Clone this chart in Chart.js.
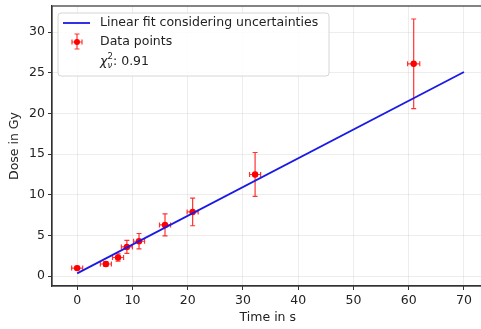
<!DOCTYPE html>
<html>
<head>
<meta charset="utf-8">
<script src="https://cdn.jsdelivr.net/npm/chart.js@4"></script>
<style>
html, body { margin: 0; padding: 0; overflow: hidden; background: #fff; }
canvas { display: block; }
</style>
</head>
<body>
<canvas id="doseChart" width="495" height="329"></canvas>
<script>
// measured points (time in s, dose in Gy) with their uncertainties
const times = [0, 5.2, 7.4, 9.0, 11.2, 15.9, 20.9, 32.2, 60.9];
const doses = [1.0, 1.5, 2.3, 3.6, 4.3, 6.3, 7.9, 12.5, 26.1];
const timeErr = [1, 1, 1, 1, 1, 1, 1, 1, 1.1];
const doseErr = [0.2, 0.3, 0.45, 0.8, 0.95, 1.35, 1.7, 2.7, 5.5];

// linear fit, end points
const fitTimes = [0, 70];
const fitDoses = [0.35, 25.1];

const xTicks = [0, 10, 20, 30, 40, 50, 60, 70];
const yTicks = [0, 5, 10, 15, 20, 25, 30];
const chiValue = "0.91";

const FONT = "'DejaVu Sans', sans-serif";
const errColor = "rgba(255,0,0,0.8)";
const fitColor = "#1a1ae6";

function drawErr(ctx, x, y, xs, ys, cap) {
  ctx.beginPath();
  ctx.moveTo(xs[0], y); ctx.lineTo(xs[1], y);
  ctx.moveTo(x, ys[0]); ctx.lineTo(x, ys[1]);
  ctx.moveTo(xs[0], y - cap); ctx.lineTo(xs[0], y + cap);
  ctx.moveTo(xs[1], y - cap); ctx.lineTo(xs[1], y + cap);
  ctx.moveTo(x - cap, ys[0]); ctx.lineTo(x + cap, ys[0]);
  ctx.moveTo(x - cap, ys[1]); ctx.lineTo(x + cap, ys[1]);
  ctx.stroke();
}

const errorBars = {
  id: "errorBars",
  beforeDatasetsDraw(chart) {
    const ctx = chart.ctx;
    const xs = chart.scales.x, ys = chart.scales.y;
    ctx.save();
    ctx.strokeStyle = errColor;
    ctx.lineWidth = 1.2;
    times.forEach((t, i) => {
      const px = xs.getPixelForValue(t), py = ys.getPixelForValue(doses[i]);
      drawErr(ctx, px, py,
        [xs.getPixelForValue(t - timeErr[i]), xs.getPixelForValue(t + timeErr[i])],
        [ys.getPixelForValue(doses[i] - doseErr[i]), ys.getPixelForValue(doses[i] + doseErr[i])],
        2.5);
    });
    ctx.restore();
  }
};

const frameAndLegend = {
  id: "frameAndLegend",
  afterDraw(chart) {
    const ctx = chart.ctx;
    const a = chart.chartArea;
    ctx.save();
    ctx.strokeStyle = "#333";
    ctx.lineWidth = 1.2;
    ctx.strokeRect(a.left, a.top, a.right - a.left, a.bottom - a.top);

    // legend box
    const bx = 58, by = 13, bw = 271, bh = 63, r = 3;
    ctx.beginPath();
    ctx.roundRect(bx, by, bw, bh, r);
    ctx.fillStyle = "rgba(255,255,255,0.85)";
    ctx.fill();
    ctx.strokeStyle = "#d6d6d6";
    ctx.lineWidth = 1;
    ctx.stroke();

    ctx.font = "12.5px " + FONT;
    ctx.fillStyle = "#222";
    ctx.textBaseline = "middle";
    ctx.textAlign = "left";

    // fit line handle
    ctx.strokeStyle = fitColor;
    ctx.lineWidth = 1.8;
    ctx.beginPath(); ctx.moveTo(63, 23); ctx.lineTo(90, 23); ctx.stroke();
    ctx.fillText("Linear fit considering uncertainties", 100, 23);

    // data point handle
    ctx.strokeStyle = errColor;
    ctx.lineWidth = 1.2;
    drawErr(ctx, 77, 42, [72, 82], [34, 49], 2.5);
    ctx.fillStyle = "red";
    ctx.beginPath(); ctx.arc(77, 42, 3, 0, Math.PI * 2); ctx.fill();
    ctx.fillStyle = "#222";
    ctx.fillText("Data points", 100, 42);

    // chi squared line
    ctx.font = "italic 12.5px " + FONT;
    ctx.fillText("\u03c7", 100, 62);
    ctx.font = "8.5px " + FONT;
    ctx.fillText("2", 107.5, 57);
    ctx.font = "italic 8.5px " + FONT;
    ctx.fillText("\u03bd", 107.5, 66);
    ctx.font = "12.5px " + FONT;
    ctx.fillText(": " + chiValue, 113, 62);
    ctx.restore();
  }
};

new Chart(document.getElementById("doseChart"), {
  type: "scatter",
  data: {
    datasets: [
      {
        label: "Linear fit considering uncertainties",
        type: "line",
        data: fitTimes.map((t, i) => ({ x: t, y: fitDoses[i] })),
        borderColor: fitColor,
        borderWidth: 1.8,
        pointRadius: 0,
        fill: false
      },
      {
        label: "Data points",
        data: times.map((t, i) => ({ x: t, y: doses[i] })),
        backgroundColor: "red",
        borderColor: "red",
        pointRadius: 3.2,
        borderWidth: 0
      }
    ]
  },
  options: {
    responsive: false,
    animation: false,
    layout: { padding: { top: 6, right: 11.4, left: 0, bottom: 0 } },
    plugins: { legend: { display: false }, tooltip: { enabled: false } },
    scales: {
      x: {
        type: "linear",
        min: -4.55,
        max: 73.55,
        afterFit: s => { s.height = 43; s.paddingLeft = 0; s.paddingRight = 0; },
        afterBuildTicks: s => { s.ticks = xTicks.map(v => ({ value: v })); },
        ticks: { font: { family: FONT, size: 12.5 }, color: "#222", padding: 3, maxRotation: 0 },
        grid: { color: "rgba(0,0,0,0.07)", tickColor: "#333", tickLength: 4 },
        border: { color: "#333", width: 1.2 },
        title: { display: true, text: "Time in s", font: { family: FONT, size: 12.5 }, color: "#222", padding: { top: 0, bottom: 3.5 } }
      },
      y: {
        type: "linear",
        min: -1.2,
        max: 33.2,
        afterFit: s => { s.width = 52; s.paddingTop = 0; s.paddingBottom = 0; },
        afterBuildTicks: s => { s.ticks = yTicks.map(v => ({ value: v })); },
        ticks: { font: { family: FONT, size: 12.5 }, color: "#222", padding: 3 },
        grid: { color: "rgba(0,0,0,0.07)", tickColor: "#333", tickLength: 4 },
        border: { color: "#333", width: 1.2 },
        title: { display: true, text: "Dose in Gy", font: { family: FONT, size: 12.5 }, color: "#222", padding: { top: 7.5, bottom: 0 } }
      }
    }
  },
  plugins: [errorBars, frameAndLegend]
});
</script>
</body>
</html>
